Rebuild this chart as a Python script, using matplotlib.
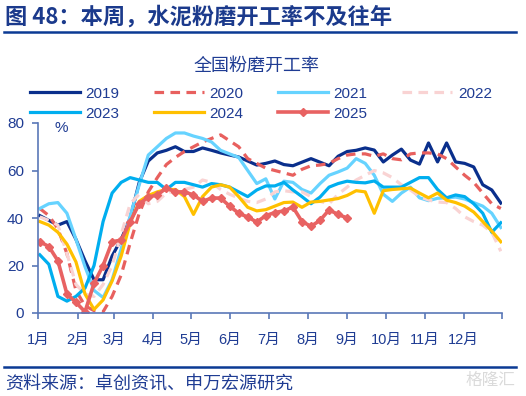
import matplotlib
matplotlib.use('Agg')
import matplotlib.pyplot as plt
from matplotlib.lines import Line2D
import numpy as np

plt.rcParams['font.family'] = ['Liberation Sans', 'Noto Sans CJK SC']

# weekly cement grinding operating rate (%), week 1..52
weeks = np.arange(1, 53)
y2019 = [41, 39, 37, 38.5, 31, 22, 14, 14, 24, 31,
         40, 55, 64, 67.4, 68.5, 70, 68, 68, 69.5, 68.5,
         67.4, 66.5, 65.7, 64, 62.3, 63, 64, 62.5, 62, 63.5,
         65, 63.5, 62, 66, 68, 68.5, 69.5, 68.6, 63.6, 66.5,
         69, 64.4, 62.7, 71.6, 63.6, 71.6, 63.6, 63, 61.5, 54,
         51.8, 46.3]
y2020 = [44, 41, 35.5, 25, 9.5, 3, 1, 0.5, 7, 16,
         29.5, 42, 51, 57, 62.5, 65.5, 68, 70, 72, 73.5,
         75, 72.5, 70, 65, 63, 61, 60, 59, 58, 60.5,
         62, 62.3, 63, 65, 66.5, 67, 67, 66, 67, 65,
         64.5, 67, 67.4, 67.4, 67, 65, 61.5, 58, 55, 50.5,
         46, 44]
y2021 = [44, 46, 46.5, 42, 31, 19.5, 9.5, 6.5, 14, 27,
         41, 54, 66.5, 70, 73.5, 75.8, 75.8, 74.5, 73.5, 72,
         68.5, 67, 65.5, 60, 54.5, 56.5, 48, 55.5, 55, 52,
         50.5, 54.5, 58, 59.4, 61, 65, 63, 58, 50, 47,
         50.5, 53, 48.5, 47.3, 48.3, 48.5, 48.8, 48, 46.5, 45,
         42, 36]
y2022 = [40.5, 39, 37, 25, 12, 8, 7, 12, 20, 33,
         46, 50, 46, 47, 50.5, 51.5, 52, 53, 56, 55,
         52, 50, 48.4, 47, 46.5, 48, 51, 51.5, 51, 51,
         49, 47, 46, 50, 53, 56, 58, 60, 59, 57,
         54, 51.8, 49, 47.6, 46.7, 46.5, 44, 40.5, 38.5, 37,
         34, 26]
y2023 = [24.5, 20.5, 7, 5, 7, 10.5, 20, 38.5, 50.5, 55,
         57, 56, 55, 55, 52, 55, 55, 54, 53, 54.5,
         54, 53, 51, 49, 51.8, 53.5, 53.5, 55, 51.8, 49,
         46, 48.8, 53, 54.5, 55.5, 55, 54.8, 55.6, 53, 53,
         53, 55, 57, 57, 52, 48.5, 49.7, 49, 46, 42,
         34, 38]
y2024 = [38.5, 37, 34, 29, 21.5, 8, 1.5, 5.5, 13.5, 24,
         38, 47, 49.5, 51, 52, 52, 49, 41.5, 49, 53,
         54, 53, 49, 44.5, 43, 43.5, 45, 46.5, 46.7, 44.5,
         46.7, 47, 47.6, 48.2, 49.5, 51.5, 51, 42, 51.5, 52,
         52.3, 52.6, 50.5, 48.5, 50.5, 47.5, 46.5, 45, 42.5, 38.5,
         34.5, 30]
y2025 = [30, 28, 22, 8, 4.5, 0.5, 12.5, 20, 30, 30.7,
         38.5, 46, 48.8, 49.7, 52.6, 51, 51, 49.7, 47, 48.4,
         48.4, 45, 42, 40.4, 38.3, 41, 42.3, 43, 44.6, 38.5,
         36.5, 39, 43.4, 41.5, 40]

month_labels = ['1月', '2月', '3月', '4月', '5月', '6月',
                '7月', '8月', '9月', '10月', '11月', '12月', '']
month_ticks = [0.8, 5.2, 9.2, 13.5, 17.7, 22.0, 26.35,
               30.65, 35.0, 39.3, 43.6, 47.9, 52.13]

NAVY = '#1F3C93'
AXIS = '#5A78B8'

fig = plt.figure(figsize=(5.26, 3.96), dpi=100)
ax = fig.add_axes([38 / 526, 83 / 396, 464 / 526, 190 / 396])

l19, = ax.plot(weeks, y2019, color='#0A2F8C', lw=2.3, label='2019')
l20, = ax.plot(weeks, y2020, color='#E8605E', lw=2.3, ls=(0, (3, 2)), label='2020')
l21, = ax.plot(weeks, y2021, color='#66D3FF', lw=2.3, label='2021')
l22, = ax.plot(weeks, y2022, color='#F9D3D3', lw=2.3, ls=(0, (3, 2)), label='2022')
l23, = ax.plot(weeks, y2023, color='#00AEEF', lw=2.3, label='2023')
l24, = ax.plot(weeks, y2024, color='#FFC000', lw=2.3, label='2024')
l25, = ax.plot(weeks[:len(y2025)], y2025, color='#E86262', lw=2.6,
               marker='D', markersize=4.5, label='2025')

ax.set_xlim(0.8, 52.13)
ax.set_ylim(0, 80)
ax.set_yticks([0, 20, 40, 60, 80])
ax.set_xticks(month_ticks)
ax.set_xticklabels(month_labels)

for side in ['top', 'right']:
    ax.spines[side].set_visible(False)
for side in ['left', 'bottom']:
    ax.spines[side].set_color(AXIS)
    ax.spines[side].set_linewidth(1.2)
ax.tick_params(axis='y', colors=AXIS, labelcolor=NAVY, length=4, width=1.2,
               pad=6, labelsize=11)
ax.tick_params(axis='x', colors=AXIS, labelcolor=NAVY, length=4, width=1.2,
               pad=10, labelsize=10.5)

fig.text(61 / 526, 1 - 128 / 396, '%', color=NAVY, fontsize=11,
         ha='center', va='center')

# legend fills column by column, so order it to read row by row
order = [l19, l23, l20, l24, l21, l25, l22]
fig.legend(order, [h.get_label() for h in order],
           loc='upper left', bbox_to_anchor=(22 / 526, 1 - 79 / 396),
           ncol=4, frameon=False, fontsize=11, handlelength=3.3,
           handletextpad=0.35, columnspacing=2.25, labelspacing=0.4,
           borderpad=0, numpoints=1, labelcolor=NAVY)

# header and footer
fig.text(5 / 526, 1 - 17 / 396, '图 48：本周，水泥粉磨开工率不及往年',
         family=['Noto Sans CJK SC'], fontweight='bold', fontsize=16,
         color='#1B3A8C', ha='left', va='center')
fig.add_artist(Line2D([4 / 526, 516 / 526], [1 - 32 / 396, 1 - 32 / 396],
                      transform=fig.transFigure, color='#0B3A94', lw=1.8))
fig.text(257 / 526, 1 - 66 / 396, '全国粉磨开工率', family=['Noto Sans CJK SC'],
         fontsize=13, color=NAVY, ha='center', va='center')
fig.add_artist(Line2D([4 / 526, 516 / 526], [1 - 367 / 396, 1 - 367 / 396],
                      transform=fig.transFigure, color='#0B3A94', lw=1.8))
fig.text(5 / 526, 1 - 385 / 396, '资料来源：卓创资讯、申万宏源研究',
         family=['Noto Sans CJK SC'], fontsize=13, color=NAVY,
         ha='left', va='center')
fig.text(515 / 526, 1 - 380 / 396, '格隆汇', family=['Noto Sans CJK SC'],
         fontsize=12, color='#DADADA', ha='right', va='center')

fig.savefig('out.png', dpi=100)
